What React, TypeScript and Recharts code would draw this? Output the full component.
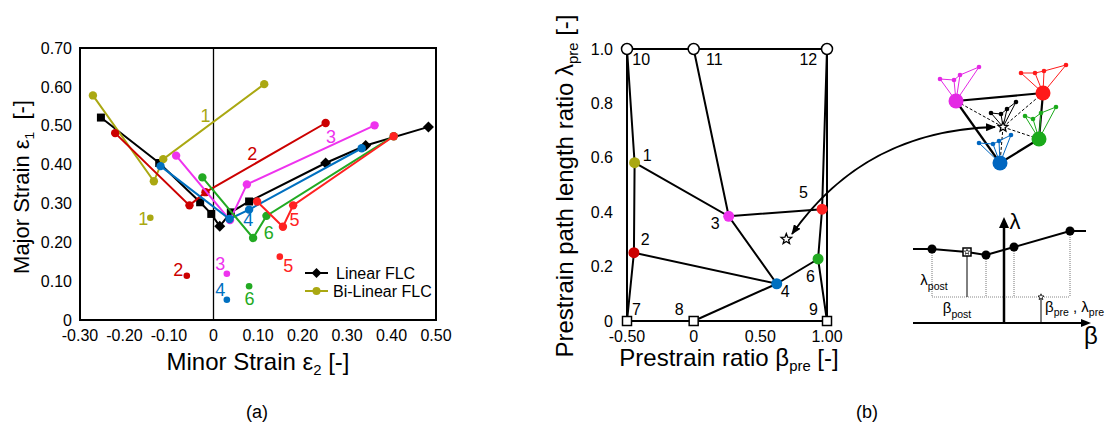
import React from 'react';
import {
  ReferenceArea,
  ReferenceLine,
  Scatter,
  ScatterChart,
  XAxis,
  YAxis,
} from 'recharts';

type P = { x: number; y: number };
type T = P & { t: string; c: string };

const FONT = '"Liberation Sans", Arial, sans-serif';
const OLIVE = '#aaa812';
const DARK_RED = '#cc0000';
const MAGENTA = '#ee33ee';
const BLUE = '#0070c0';
const GREEN = '#22aa22';
const RED = '#ff2222';

// (a) minor strain vs major strain
const strainTicksX = [-0.3, -0.2, -0.1, 0, 0.1, 0.2, 0.3, 0.4, 0.5];
const strainTicksY = [0, 0.1, 0.2, 0.3, 0.4, 0.5, 0.6, 0.7];

const linearFlc: P[] = [
  { x: -0.253, y: 0.521 },
  { x: -0.122, y: 0.404 },
  { x: -0.03, y: 0.303 },
  { x: -0.005, y: 0.273 },
  { x: 0.014, y: 0.241 },
  { x: 0.039, y: 0.277 },
  { x: 0.08, y: 0.305 },
  { x: 0.252, y: 0.404 },
  { x: 0.342, y: 0.449 },
  { x: 0.483, y: 0.497 },
];
const flc1: P[] = [
  { x: -0.271, y: 0.578 },
  { x: -0.134, y: 0.357 },
  { x: -0.113, y: 0.414 },
  { x: 0.114, y: 0.607 },
];
const flc2: P[] = [
  { x: -0.221, y: 0.481 },
  { x: -0.054, y: 0.295 },
  { x: -0.018, y: 0.329 },
  { x: 0.252, y: 0.507 },
];
const flc3: P[] = [
  { x: -0.084, y: 0.423 },
  { x: 0.037, y: 0.257 },
  { x: 0.075, y: 0.349 },
  { x: 0.362, y: 0.501 },
];
const flc4: P[] = [
  { x: -0.119, y: 0.396 },
  { x: 0.036, y: 0.26 },
  { x: 0.08, y: 0.284 },
  { x: 0.333, y: 0.442 },
];
const flc5: P[] = [
  { x: 0.098, y: 0.305 },
  { x: 0.156, y: 0.24 },
  { x: 0.179, y: 0.295 },
  { x: 0.405, y: 0.473 },
];
const flc6: P[] = [
  { x: -0.025, y: 0.367 },
  { x: 0.089, y: 0.211 },
  { x: 0.119, y: 0.268 },
  { x: 0.405, y: 0.473 },
];
const prestrainPts: (P & { c: string })[] = [
  { x: -0.142, y: 0.263, c: OLIVE },
  { x: -0.06, y: 0.114, c: DARK_RED },
  { x: 0.03, y: 0.119, c: MAGENTA },
  { x: 0.03, y: 0.052, c: BLUE },
  { x: 0.149, y: 0.163, c: RED },
  { x: 0.08, y: 0.087, c: GREEN },
];
const strainLabels: T[] = [
  { x: -0.018, y: 0.524, t: '1', c: OLIVE },
  { x: 0.087, y: 0.427, t: '2', c: DARK_RED },
  { x: 0.264, y: 0.472, t: '3', c: MAGENTA },
  { x: 0.078, y: 0.257, t: '4', c: BLUE },
  { x: 0.182, y: 0.257, t: '5', c: RED },
  { x: 0.124, y: 0.224, t: '6', c: GREEN },
  { x: -0.158, y: 0.26, t: '1', c: OLIVE },
  { x: -0.079, y: 0.128, t: '2', c: DARK_RED },
  { x: 0.015, y: 0.143, t: '3', c: MAGENTA },
  { x: 0.015, y: 0.076, t: '4', c: BLUE },
  { x: 0.168, y: 0.139, t: '5', c: RED },
  { x: 0.081, y: 0.055, t: '6', c: GREEN },
];

// (b) prestrain ratio vs prestrain path length ratio
const betaTicks = [-0.5, 0, 0.5, 1];
const lambdaTicks = [0, 0.2, 0.4, 0.6, 0.8, 1];
const nodes: Record<string, P> = {
  '1': { x: -0.443, y: 0.582 },
  '2': { x: -0.448, y: 0.251 },
  '3': { x: 0.263, y: 0.385 },
  '4': { x: 0.623, y: 0.137 },
  '5': { x: 0.963, y: 0.411 },
  '6': { x: 0.933, y: 0.228 },
  '7': { x: -0.5, y: 0 },
  '8': { x: 0, y: 0 },
  '9': { x: 1, y: 0 },
  '10': { x: -0.5, y: 1 },
  '11': { x: 0, y: 1 },
  '12': { x: 1, y: 1 },
};
const nodeColors: [string, string][] = [
  ['1', OLIVE],
  ['2', DARK_RED],
  ['3', MAGENTA],
  ['4', BLUE],
  ['5', RED],
  ['6', GREEN],
];
const openCircles = ['10', '11', '12'];
const openSquares = ['7', '8', '9'];
const edges: string[][] = [
  ['10', '11', '12'],
  ['7', '8', '9'],
  ['10', '7'],
  ['12', '9'],
  ['10', '1', '2', '7'],
  ['12', '5', '6', '9'],
  ['11', '3', '4'],
  ['1', '3', '5'],
  ['2', '4', '6'],
  ['8', '4'],
];
const nodeLabels: T[] = [
  { x: -0.348, y: 0.607, t: '1', c: '#000' },
  { x: -0.363, y: 0.301, t: '2', c: '#000' },
  { x: 0.162, y: 0.357, t: '3', c: '#000' },
  { x: 0.687, y: 0.107, t: '4', c: '#000' },
  { x: 0.823, y: 0.471, t: '5', c: '#000' },
  { x: 0.875, y: 0.165, t: '6', c: '#000' },
  { x: -0.43, y: 0.044, t: '7', c: '#000' },
  { x: -0.108, y: 0.044, t: '8', c: '#000' },
  { x: 0.898, y: 0.044, t: '9', c: '#000' },
  { x: -0.393, y: 0.963, t: '10', c: '#000' },
  { x: 0.155, y: 0.963, t: '11', c: '#000' },
  { x: 0.86, y: 0.963, t: '12', c: '#000' },
];
const targetPt: P[] = [{ x: 0.695, y: 0.301 }];

// schematic (top right): interpolation cell
const cellNodes: (P & { c: string })[] = [
  { x: 36, y: 79, c: '#e428e4' },
  { x: 123, y: 87, c: '#ff1a1a' },
  { x: 119, y: 41, c: '#1aaa1a' },
  { x: 80, y: 17, c: '#0066c0' },
];
const cellStar: P = { x: 83, y: 53 };
const cellEdges = [
  [0, 1],
  [0, 3],
  [3, 2],
  [1, 2],
];
const fanMagenta: P[] = [
  { x: 20, y: 101 },
  { x: 34, y: 100 },
  { x: 40, y: 105 },
  { x: 59, y: 113 },
];
const fanRed: P[] = [
  { x: 101, y: 107 },
  { x: 115, y: 107 },
  { x: 124, y: 109 },
  { x: 146, y: 115 },
];
const fanGreen: P[] = [
  { x: 105, y: 64 },
  { x: 113, y: 61 },
  { x: 121, y: 67 },
  { x: 136, y: 73 },
];
const fanBlue: P[] = [
  { x: 59, y: 37 },
  { x: 73, y: 36 },
  { x: 79, y: 39 },
  { x: 91, y: 45 },
];
const fanBlack: P[] = [
  { x: 71, y: 67 },
  { x: 81, y: 66 },
  { x: 87, y: 71 },
  { x: 96, y: 78 },
];

// schematic (bottom right): FLC parameterised by beta, lambda
const flcSketch: P[] = [
  { x: 13, y: 101 },
  { x: 32, y: 101 },
  { x: 67, y: 98 },
  { x: 86, y: 95 },
  { x: 114, y: 103 },
  { x: 170, y: 119 },
  { x: 186, y: 119 },
];
const sketchBase = 53;
const sketchAxisY = 27;
const sketchAxisX = 104;
const sketchStar: P = { x: 141, y: 53 };

const none = () => <g />;

const starPath = (cx: number, cy: number, R: number, r: number) => {
  let d = '';
  for (let i = 0; i < 10; i++) {
    const a = -Math.PI / 2 + (i * Math.PI) / 5;
    const rad = i % 2 ? r : R;
    d += (i ? 'L' : 'M') + (cx + rad * Math.cos(a)).toFixed(1) + ',' + (cy + rad * Math.sin(a)).toFixed(1);
  }
  return d + 'Z';
};

const dotShape = (color: string, r: number) => (p: any) => (
  <circle cx={p.cx} cy={p.cy} r={r} fill={color} />
);
// linear FLC mixes square and diamond markers
const LINEAR_DIAMONDS = new Set([4, 7, 8, 9]);
const linearMarker = (p: any) =>
  LINEAR_DIAMONDS.has(p.index) ? (
    <path
      d={`M${p.cx},${p.cy - 5.5}L${p.cx + 5.5},${p.cy}L${p.cx},${p.cy + 5.5}L${p.cx - 5.5},${p.cy}Z`}
      fill="#000"
    />
  ) : (
    <rect x={p.cx - 4} y={p.cy - 4} width={8} height={8} fill="#000" />
  );
const textShape = (size: number) => (p: any) => (
  <text
    x={p.cx}
    y={p.cy}
    fill={p.payload.c}
    fontSize={size}
    fontFamily={FONT}
    textAnchor="middle"
    dominantBaseline="central"
  >
    {p.payload.t}
  </text>
);

const Sub = ({ children }: { children: React.ReactNode }) => (
  <span style={{ fontSize: '0.62em', position: 'relative', top: '0.35em' }}>{children}</span>
);

const Title = ({
  x,
  y,
  rotate,
  size = 21,
  children,
}: {
  x: number;
  y: number;
  rotate?: boolean;
  size?: number;
  children: React.ReactNode;
}) => (
  <div
    style={{
      position: 'absolute',
      left: x,
      top: y,
      transform: `translate(-50%, -50%)${rotate ? ' rotate(-90deg)' : ''}`,
      whiteSpace: 'nowrap',
      fontFamily: FONT,
      fontSize: size,
      color: '#000',
      lineHeight: 1,
    }}
  >
    {children}
  </div>
);

const seg = (pts: P[], stroke: string, width: number, dash?: string, key?: string) => (
  <Scatter
    key={key}
    data={pts}
    line={{ stroke, strokeWidth: width, strokeDasharray: dash }}
    shape={none}
    isAnimationActive={false}
  />
);

const tickStyle = { fontSize: 16, fill: '#000', fontFamily: FONT };

function StrainChart() {
  const series: [P[], string][] = [
    [flc1, OLIVE],
    [flc2, DARK_RED],
    [flc3, MAGENTA],
    [flc4, BLUE],
    [flc6, GREEN],
    [flc5, RED],
  ];
  return (
    <ScatterChart
      width={460}
      height={380}
      margin={{ top: 48, right: 24, bottom: 30, left: 30 }}
    >
      <XAxis
        type="number"
        dataKey="x"
        domain={[-0.3, 0.5]}
        ticks={strainTicksX}
        tickFormatter={(v: number) => (v === 0 ? '0' : v.toFixed(2))}
        tick={tickStyle}
        tickLine={false}
        axisLine={false}
        tickMargin={4}
        height={30}
        interval={0}
      />
      <YAxis
        type="number"
        dataKey="y"
        domain={[0, 0.7]}
        ticks={strainTicksY}
        tickFormatter={(v: number) => (v === 0 ? '0' : v.toFixed(2))}
        tick={tickStyle}
        tickLine={false}
        axisLine={false}
        width={50}
        interval={0}
      />
      <ReferenceArea x1={-0.3} x2={0.5} y1={0} y2={0.7} fill="none" stroke="#000" strokeWidth={2} />
      <ReferenceLine x={0} stroke="#000" strokeWidth={1.3} />
      <Scatter
        data={linearFlc}
        line={{ stroke: '#000', strokeWidth: 2 }}
        shape={linearMarker}
        isAnimationActive={false}
      />
      {series.map(([d, c], i) => (
        <Scatter
          key={i}
          data={d}
          line={{ stroke: c, strokeWidth: 2 }}
          shape={dotShape(c, 4.2)}
          isAnimationActive={false}
        />
      ))}
      <Scatter
        data={prestrainPts}
        shape={(p: any) => <circle cx={p.cx} cy={p.cy} r={3.3} fill={p.payload.c} />}
        isAnimationActive={false}
      />
      <Scatter data={strainLabels} shape={textShape(18)} isAnimationActive={false} />
    </ScatterChart>
  );
}

function PrestrainChart() {
  return (
    <ScatterChart
      width={290}
      height={380}
      margin={{ top: 49, right: 23, bottom: 29, left: 27 }}
    >
      <XAxis
        type="number"
        dataKey="x"
        domain={[-0.5, 1]}
        ticks={betaTicks}
        tickFormatter={(v: number) => (v === 0 ? '0' : v.toFixed(2))}
        tick={tickStyle}
        tickLine={false}
        axisLine={false}
        tickMargin={4}
        height={30}
        interval={0}
      />
      <YAxis
        type="number"
        dataKey="y"
        domain={[0, 1]}
        ticks={lambdaTicks}
        tickFormatter={(v: number) => (v === 0 ? '0' : v.toFixed(1))}
        tick={tickStyle}
        tickLine={false}
        axisLine={false}
        tickMargin={8}
        width={40}
        interval={0}
      />
      {edges.map((e, i) => seg(e.map((k) => nodes[k]), '#000', 2, undefined, 'e' + i))}
      {nodeColors.map(([k, c]) => (
        <Scatter key={k} data={[nodes[k]]} shape={dotShape(c, 5.5)} isAnimationActive={false} />
      ))}
      <Scatter
        data={openCircles.map((k) => nodes[k])}
        shape={(p: any) => (
          <circle cx={p.cx} cy={p.cy} r={5.5} fill="#fff" stroke="#000" strokeWidth={1.5} />
        )}
        isAnimationActive={false}
      />
      <Scatter
        data={openSquares.map((k) => nodes[k])}
        shape={(p: any) => (
          <rect x={p.cx - 4.5} y={p.cy - 4.5} width={9} height={9} fill="#fff" stroke="#000" strokeWidth={1.5} />
        )}
        isAnimationActive={false}
      />
      <Scatter
        data={targetPt}
        shape={(p: any) => <path d={starPath(p.cx, p.cy, 5.5, 2.4)} fill="#fff" stroke="#000" strokeWidth={1.3} />}
        isAnimationActive={false}
      />
      <Scatter data={nodeLabels} shape={textShape(16)} isAnimationActive={false} />
    </ScatterChart>
  );
}

function CellSketch() {
  const fans: [P[], number][] = [
    [fanMagenta, 0],
    [fanRed, 1],
    [fanGreen, 2],
    [fanBlue, 3],
  ];
  return (
    <ScatterChart width={170} height={130} margin={{ top: 0, right: 0, bottom: 0, left: 0 }}>
      <XAxis type="number" dataKey="x" domain={[0, 170]} hide />
      <YAxis type="number" dataKey="y" domain={[0, 130]} hide />
      {cellNodes.map((n, i) => seg([cellStar, n], '#000', 1, '3 2', 'd' + i))}
      {cellEdges.map(([a, b], i) => seg([cellNodes[a], cellNodes[b]], '#000', 2.2, undefined, 'c' + i))}
      {fans.map(([f, i]) => [
        ...f.map((q, j) => seg([cellNodes[i], q], cellNodes[i].c, 1, undefined, `f${i}${j}`)),
        <Scatter
          key={'fp' + i}
          data={f}
          line={{ stroke: cellNodes[i].c, strokeWidth: 1 }}
          shape={dotShape(cellNodes[i].c, 2.3)}
          isAnimationActive={false}
        />,
      ])}
      {fanBlack.map((q, j) => seg([cellStar, q], '#000', 1, undefined, 'fb' + j))}
      <Scatter
        data={fanBlack}
        line={{ stroke: '#000', strokeWidth: 1 }}
        shape={dotShape('#000', 2.3)}
        isAnimationActive={false}
      />
      {cellNodes.map((n, i) => (
        <Scatter key={'n' + i} data={[n]} shape={dotShape(n.c, 7.5)} isAnimationActive={false} />
      ))}
      <Scatter
        data={[cellStar]}
        shape={(p: any) => <path d={starPath(p.cx, p.cy, 5, 2.2)} fill="#fff" stroke="#000" strokeWidth={1.3} />}
        isAnimationActive={false}
      />
    </ScatterChart>
  );
}

function FlcSketch() {
  const drops = [1, 3, 4, 5].map((i) => flcSketch[i]);
  const sq = flcSketch[2];
  return (
    <ScatterChart width={200} height={145} margin={{ top: 0, right: 0, bottom: 0, left: 0 }}>
      <XAxis type="number" dataKey="x" domain={[0, 200]} hide />
      <YAxis type="number" dataKey="y" domain={[0, 145]} hide />
      {seg([{ x: drops[0].x, y: sketchBase }, { x: drops[3].x, y: sketchBase }], '#888', 1, '1 1', 'base')}
      {drops.map((d, i) => seg([d, { x: d.x, y: sketchBase }], '#777', 1, '1 1', 'dr' + i))}
      {seg([sq, { x: sq.x, y: sketchBase }], '#000', 1, undefined, 'sq')}
      {seg([sketchStar, { x: sketchStar.x, y: sketchAxisY }], '#000', 1, undefined, 'st')}
      {seg([{ x: 13, y: sketchAxisY }, { x: 185, y: sketchAxisY }], '#000', 2.2, undefined, 'ax')}
      {seg([{ x: sketchAxisX, y: sketchAxisY }, { x: sketchAxisX, y: 127 }], '#000', 2.5, undefined, 'ay')}
      <Scatter
        data={[{ x: 185, y: sketchAxisY }]}
        shape={(p: any) => <path d={`M${p.cx + 6},${p.cy}L${p.cx - 4},${p.cy - 4}L${p.cx - 4},${p.cy + 4}Z`} fill="#000" />}
        isAnimationActive={false}
      />
      <Scatter
        data={[{ x: sketchAxisX, y: 127 }]}
        shape={(p: any) => <path d={`M${p.cx},${p.cy - 6}L${p.cx - 5},${p.cy + 5}L${p.cx + 5},${p.cy + 5}Z`} fill="#000" />}
        isAnimationActive={false}
      />
      <Scatter data={flcSketch} line={{ stroke: '#000', strokeWidth: 2 }} shape={none} isAnimationActive={false} />
      <Scatter data={drops} shape={dotShape('#000', 4.5)} isAnimationActive={false} />
      <Scatter
        data={[sq]}
        shape={(p: any) => (
          <g>
            <rect x={p.cx - 4} y={p.cy - 4} width={8} height={8} fill="#fff" stroke="#000" strokeWidth={1.5} />
            <path d={starPath(p.cx, p.cy, 2.8, 1.2)} fill="none" stroke="#000" strokeWidth={0.7} />
          </g>
        )}
        isAnimationActive={false}
      />
      <Scatter
        data={[sketchStar]}
        shape={(p: any) => <path d={starPath(p.cx, p.cy, 3.2, 1.4)} fill="#fff" stroke="#000" strokeWidth={0.8} />}
        isAnimationActive={false}
      />
    </ScatterChart>
  );
}

const SvgSub = ({ x, y, main, sub, size, anchor = 'middle' }: any) => (
  <text x={x} y={y} fontFamily={FONT} fontSize={size} textAnchor={anchor} fill="#000">
    {main}
    <tspan fontSize={size * 0.7} dy={size * 0.3}>
      {sub}
    </tspan>
  </text>
);

export default function App() {
  return (
    <div
      style={{
        position: 'absolute',
        left: 0,
        top: 0,
        width: 1108,
        height: 423,
        background: '#fff',
        overflow: 'hidden',
      }}
    >
      <div style={{ position: 'absolute', left: 0, top: 0 }}>
        <StrainChart />
      </div>
      <div style={{ position: 'absolute', left: 560, top: 0 }}>
        <PrestrainChart />
      </div>
      <div style={{ position: 'absolute', left: 920, top: 50 }}>
        <CellSketch />
      </div>
      <div style={{ position: 'absolute', left: 900, top: 205 }}>
        <FlcSketch />
      </div>

      {/* legend (a) */}
      <svg style={{ position: 'absolute', left: 300, top: 262 }} width={140} height={40}>
        <line x1={5} y1={11} x2={28} y2={11} stroke="#000" strokeWidth={2} />
        <path d="M16.5,6L21.5,11L16.5,16L11.5,11Z" fill="#000" />
        <text x={36} y={16.5} fontFamily={FONT} fontSize={16}>
          Linear FLC
        </text>
        <line x1={5} y1={29} x2={28} y2={29} stroke={OLIVE} strokeWidth={2} />
        <circle cx={16.5} cy={29} r={4} fill={OLIVE} />
        <text x={33} y={34.5} fontFamily={FONT} fontSize={16}>
          Bi-Linear FLC
        </text>
      </svg>

      {/* annotations on the schematics and the link arrow */}
      <svg style={{ position: 'absolute', left: 0, top: 0, pointerEvents: 'none' }} width={1108} height={423}>
        <defs>
          <marker id="ah" markerWidth="10" markerHeight="8" refX="9" refY="4" orient="auto-start-reverse" markerUnits="userSpaceOnUse">
            <path d="M0,0L10,4L0,8Z" fill="#000" />
          </marker>
        </defs>
        <path d="M792,234 C830,180 890,130 995,127" fill="none" stroke="#000" strokeWidth={1.8} markerStart="url(#ah)" markerEnd="url(#ah)" />
        <SvgSub x={934} y={285} main="λ" sub="post" size={15} />
        <SvgSub x={957} y={313} main="β" sub="post" size={15} />
        <text x={1045} y={312} fontFamily={FONT} fontSize={15}>
          β<tspan fontSize={10.5} dy={4}>pre</tspan>
          <tspan dy={-4}> , λ</tspan>
          <tspan fontSize={10.5} dy={4}>pre</tspan>
        </text>
        <text x={1015} y={229} fontFamily={FONT} fontSize={22} textAnchor="middle">
          λ
        </text>
        <text x={1091} y={344} fontFamily={FONT} fontSize={24} textAnchor="middle">
          β
        </text>
      </svg>

      <Title x={22} y={187} rotate size={22}>
        Major Strain ε<Sub>1</Sub>&nbsp; [-]
      </Title>
      <Title x={258} y={362} size={24}>
        Minor Strain ε<Sub>2</Sub> [-]
      </Title>
      <Title x={565} y={186} rotate size={24}>
        Prestrain path length ratio λ<Sub>pre</Sub> [-]
      </Title>
      <Title x={729} y={358} size={24}>
        Prestrain ratio β<Sub>pre</Sub> [-]
      </Title>
      <Title x={257} y={412} size={18}>
        (a)
      </Title>
      <Title x={867} y={412} size={18}>
        (b)
      </Title>
    </div>
  );
}
